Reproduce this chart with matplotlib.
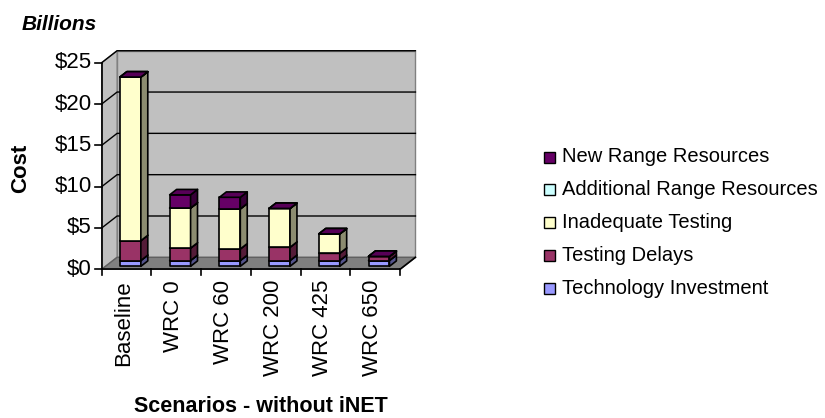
import matplotlib
matplotlib.use("Agg")
import matplotlib.pyplot as plt
from matplotlib.patches import Polygon, Rectangle

# ---- data (billions of dollars) ----
scenarios = ["Baseline", "WRC 0", "WRC 60", "WRC 200", "WRC 425", "WRC 650"]
technology_investment = [0.7, 0.7, 0.7, 0.7, 0.7, 0.7]
testing_delays = [2.4, 1.5, 1.4, 1.6, 0.87, 0.5]
inadequate_testing = [19.8, 4.85, 4.85, 4.7, 2.35, 0.0]
additional_range = [0.0, 0.0, 0.0, 0.0, 0.0, 0.0]
new_range = [0.0, 1.6, 1.4, 0.0, 0.0, 0.0]

series_names = ["Technology Investment", "Testing Delays", "Inadequate Testing",
                "Additional Range Resources", "New Range Resources"]
series_values = [technology_investment, testing_delays, inadequate_testing,
                 additional_range, new_range]
series_colors = ["#9999FF", "#993366", "#FFFFCC", "#CCFFFF", "#660066"]

y_ticks = [0, 5, 10, 15, 20, 25]
y_tick_labels = ["$0", "$5", "$10", "$15", "$20", "$25"]

FONT = "Liberation Sans"
W, H = 825, 418
fig = plt.figure(figsize=(W / 100, H / 100), dpi=100)
fig.patch.set_facecolor("white")

# main axes: front plane in data units (categories x dollars)
n = len(scenarios)
ymax = 25
DX, DY = 0.31, 1.45          # oblique depth offset of the walls
px_x = 49.72                  # pixels per category
px_y = 8.264                  # pixels per dollar
xlim = (0, n + 0.4)
ylim = (0, ymax + 1.6)
left_px, front_px = 101.7, 269.3
ax = fig.add_axes([left_px / W, (H - front_px) / H,
                   (xlim[1] - xlim[0]) * px_x / W, (ylim[1] - ylim[0]) * px_y / H])
ax.set_xlim(*xlim)
ax.set_ylim(*ylim)
ax.axis("off")


def shade(color, k):
    r, g, b = matplotlib.colors.to_rgb(color)
    return (r * k, g * k, b * k)


wall_c = "#C0C0C0"
wall_edge = "#808080"
# back wall
ax.add_patch(Polygon([(DX, DY), (n + DX, DY), (n + DX, ymax + DY), (DX, ymax + DY)],
                     closed=True, fc=wall_c, ec=wall_edge, lw=1.0, clip_on=False, zorder=1))
# side wall
ax.add_patch(Polygon([(0, 0), (DX, DY), (DX, ymax + DY), (0, ymax)],
                     closed=True, fc=wall_c, ec=wall_edge, lw=1.0, clip_on=False, zorder=1))
# gridlines on both walls
for v in y_ticks[1:]:
    ax.plot([0, DX, n + DX], [v, v + DY, v + DY], color="black", lw=1.0,
            clip_on=False, zorder=2)
# floor
ax.add_patch(Polygon([(0, 0), (n, 0), (n + DX, DY), (DX, DY)],
                     closed=True, fc="#808080", ec="#606060", lw=1.0, clip_on=False, zorder=2))
ax.plot([n, n + DX], [0, DY], color="black", lw=1.2, clip_on=False, zorder=3)

# value axis
ax.plot([0, 0], [0, ymax], color="black", lw=1.2, clip_on=False, zorder=3)
for v, lab in zip(y_ticks, y_tick_labels):
    ax.plot([-0.13, 0], [v, v], color="black", lw=1.2, clip_on=False, zorder=3)
    ax.text(-0.2, v, lab, ha="right", va="center", fontsize=16,
            family=FONT, clip_on=False)

# category axis
ax.plot([0, n], [0, 0], color="black", lw=1.2, clip_on=False, zorder=3)
for i in range(n + 1):
    ax.plot([i, i], [0, -0.75], color="black", lw=1.2, clip_on=False, zorder=3)
for i, name in enumerate(scenarios):
    ax.text(i + 0.45, -1.3, name, rotation=90, ha="center", va="top",
            fontsize=16, family=FONT, clip_on=False)

# stacked 3D-style bars
F0, F1 = 0.25, 0.7
bar_w = 0.42
for i in range(n):
    x0 = i + 0.5 - bar_w / 2
    x1 = x0 + bar_w
    base = 0.0
    for vals, col in zip(series_values, series_colors):
        top = base + vals[i]
        ox0, oy0 = F0 * DX, F0 * DY
        ox1, oy1 = F1 * DX, F1 * DY
        front = [(x0 + ox0, base + oy0), (x1 + ox0, base + oy0),
                 (x1 + ox0, top + oy0), (x0 + ox0, top + oy0)]
        side = [(x1 + ox0, base + oy0), (x1 + ox1, base + oy1),
                (x1 + ox1, top + oy1), (x1 + ox0, top + oy0)]
        lid = [(x0 + ox0, top + oy0), (x1 + ox0, top + oy0),
               (x1 + ox1, top + oy1), (x0 + ox1, top + oy1)]
        kw = dict(closed=True, ec="black", lw=1.2, joinstyle="round",
                  clip_on=False, zorder=5)
        ax.add_patch(Polygon(front, fc=col, **kw))
        ax.add_patch(Polygon(side, fc=shade(col, 0.55), **kw))
        ax.add_patch(Polygon(lid, fc=shade(col, 0.85), **kw))
        base = top

# overlay in pixel coordinates for titles and legend
ov = fig.add_axes([0, 0, 1, 1])
ov.set_xlim(0, W)
ov.set_ylim(H, 0)
ov.axis("off")
ov.patch.set_alpha(0)

ov.text(22, 24, "Billions", ha="left", va="center", fontsize=15,
        fontweight="bold", fontstyle="italic", family=FONT)
ov.text(21, 168, "Cost", rotation=90, ha="center", va="center", fontsize=16,
        fontweight="bold", family=FONT)
ov.text(261, 407, "Scenarios - without iNET", ha="center", va="center",
        fontsize=15.5, fontweight="bold", family=FONT)

legend_y0, legend_dy = 157, 32.8
for k, (name, col) in enumerate(zip(series_names[::-1], series_colors[::-1])):
    y = legend_y0 + k * legend_dy
    ov.add_patch(Rectangle((544, y - 5.5), 11, 11, fc=col, ec="black", lw=1.0))
    ov.text(562, y, name, ha="left", va="center", fontsize=14.5, family=FONT)

fig.savefig("out.png", dpi=100)
